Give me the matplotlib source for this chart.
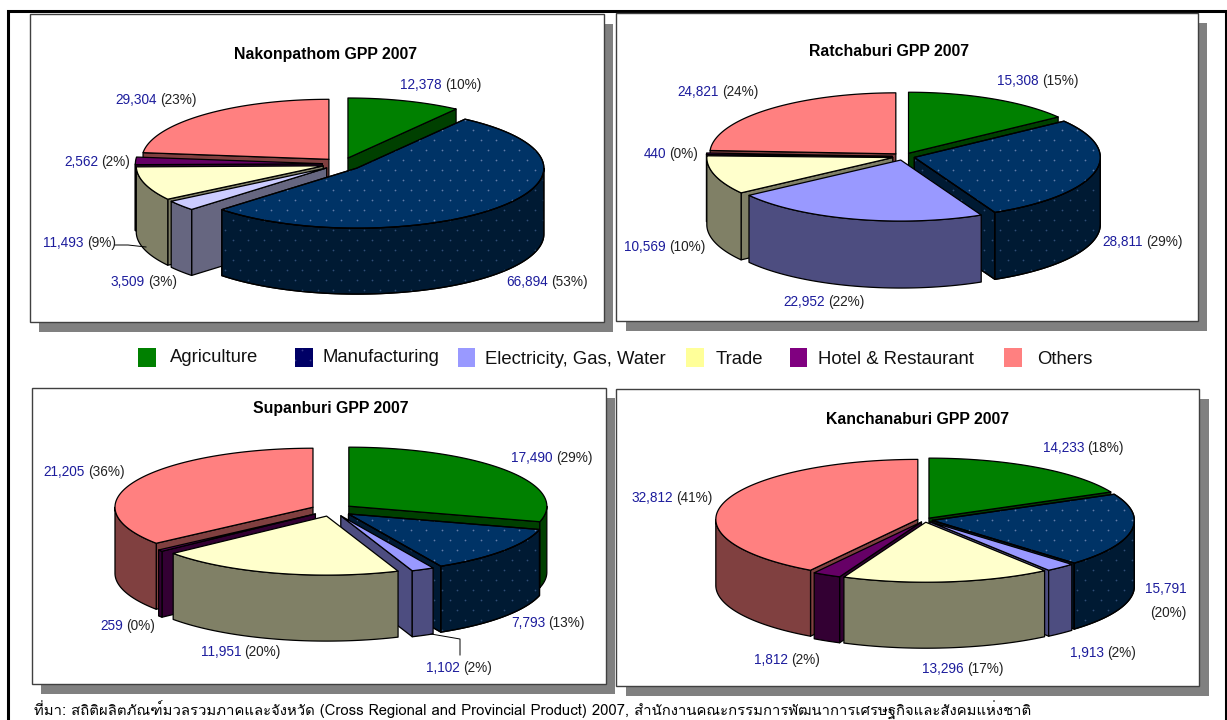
import numpy as np
import matplotlib
matplotlib.use("Agg")
import matplotlib.pyplot as plt
from matplotlib import font_manager
from matplotlib.ft2font import FT2Font
from matplotlib.patches import Polygon, Rectangle

# Values, same slice order in every chart
categories = ["Agriculture", "Manufacturing", "Electricity, Gas, Water", "Trade", "Hotel & Restaurant", "Others"]

nakon_values = [12378, 66894, 3509, 11493, 2562, 29304]
nakon_pct = [10, 53, 3, 9, 2, 23]
ratch_values = [15308, 28811, 22952, 10569, 440, 24821]
ratch_pct = [15, 29, 22, 10, 0, 24]
supan_values = [17490, 7793, 1102, 11951, 259, 21205]
supan_pct = [29, 13, 2, 20, 0, 36]
kanch_values = [14233, 15791, 1913, 13296, 1812, 32812]
kanch_pct = [18, 20, 2, 17, 2, 41]

source_text = ("ที่มา: สถิติผลิตภัณฑ์มวลรวมภาคและจังหวัด (Cross Regional and Provincial Product) 2007, "
               "สำนักงานคณะกรรมการพัฒนาการเศรษฐกิจและสังคมแห่งชาติ")

# Colours
top_colors = ["#008000", "#003366", "#9999FF", "#FFFFCC", "#660066", "#FF8080"]
side_colors = ["#004000", "#001A33", "#4D4D80", "#808066", "#330033", "#804040"]
legend_colors = ["#008000", "#000066", "#9999FF", "#FFFF99", "#800080", "#FF8080"]
label_blue = "#1C1C9C"
narrow = ["Liberation Sans Narrow", "Liberation Sans", "DejaVu Sans"]

# look for any installed font that has Thai in it
thai_fonts = []
for f in font_manager.fontManager.ttflist:
    try:
        if 0x0E2A in FT2Font(f.fname).get_charmap() and f.name not in thai_fonts:
            thai_fonts.append(f.name)
    except Exception:
        pass

fig = plt.figure(figsize=(12.27, 7.2), dpi=100)
ax = fig.add_axes([0, 0, 1, 1])
ax.set_xlim(0, 1227)
ax.set_ylim(720, 0)
ax.axis("off")

z = [3]


def next_z():
    z[0] += 1
    return z[0]


def add_dots(patch, color):
    # dotted pattern of the manufacturing slice
    xs, ys = np.meshgrid(np.arange(0, 1227, 15.5), np.arange(0, 720, 10.0))
    xs = xs + (np.round(ys / 10) % 2) * 7.75
    dots = ax.scatter(xs.ravel(), ys.ravel(), s=1.6, c=color, linewidths=0, zorder=next_z())
    dots.set_clip_path(patch)


def draw_face(pts, color, dotted=None):
    patch = Polygon(pts, closed=True, facecolor=color, edgecolor="black", lw=0.9, joinstyle="round", zorder=next_z())
    ax.add_patch(patch)
    if dotted:
        add_dots(patch, dotted)
        ax.add_patch(Polygon(pts, closed=True, fill=False, edgecolor="black", lw=0.9, zorder=next_z()))


def draw_pie(values, cx, cy, rx, ry, depth, explode, tops=top_colors, sides=side_colors):
    values = np.array(values, dtype=float)
    edges = np.concatenate([[0], np.cumsum(values) / values.sum() * 360])
    mids = (edges[:-1] + edges[1:]) / 2
    # back slices first
    for i in np.argsort(-np.cos(np.radians(mids))):
        a, b, m = edges[i], edges[i + 1], mids[i]
        ax0 = cx + rx * explode * np.sin(np.radians(m))
        ay0 = cy - ry * explode * np.cos(np.radians(m))

        def rim(t):
            t = np.radians(t)
            return np.column_stack([ax0 + rx * np.sin(t), ay0 - ry * np.cos(t)])

        apex = np.array([[ax0, ay0]])
        down = np.array([0, depth])
        dot_side = "#2F4C75" if i == 1 else None
        dot_top = "#5F7BA8" if i == 1 else None
        # cut faces, only the ones turned to the viewer
        if 0 < b < 180:
            q = np.vstack([apex, rim([b])])
            draw_face(np.vstack([q, q[::-1] + down]), sides[i], dot_side)
        if 180 < a < 360:
            q = np.vstack([apex, rim([a])])
            draw_face(np.vstack([q, q[::-1] + down]), sides[i], dot_side)
        # outer wall
        lo, hi = max(a, 90), min(b, 270)
        if hi > lo:
            arc = rim(np.linspace(lo, hi, 80))
            draw_face(np.vstack([arc, arc[::-1] + down]), sides[i], dot_side)
        # top
        draw_face(np.vstack([apex, rim(np.linspace(a, b, 120))]), tops[i], dot_top)


def draw_panel(x0, y0, x1, y1, title, tx, ty):
    ax.add_patch(Rectangle((x0 + 9.5, y0 + 10), x1 - x0, y1 - y0, facecolor="#808080", edgecolor="none", zorder=1))
    ax.add_patch(Rectangle((x0, y0), x1 - x0, y1 - y0, facecolor="white", edgecolor="#404040", lw=1.0, zorder=2))
    ax.text(tx, ty, title, ha="center", va="center", fontsize=11.4, fontweight="bold", family=narrow, color="black", zorder=900)


def draw_labels(values, pct, spots):
    for v, p, spot in zip(values, pct, spots):
        sx, sy = spot[0], spot[1]
        if len(spot) > 2:  # label broken over two lines
            ax.text(sx, sy, f"{v:,}", ha="center", va="center", fontsize=9.8, family=narrow, color=label_blue, zorder=900)
            ax.text(sx + 2, spot[2], f"({p}%)", ha="center", va="center", fontsize=9.8, family=narrow, color="#222222", zorder=900)
            continue
        ax.text(sx, sy, f"{v:,}", ha="right", va="center", fontsize=9.8, family=narrow, color=label_blue, zorder=900)
        ax.text(sx + 3, sy, f"({p}%)", ha="left", va="center", fontsize=9.8, family=narrow, color="#222222", zorder=900)


# outer frame
ax.plot([8, 8, 1225.5, 1225.5], [725, 11, 11, 725], color="black", lw=2.2, zorder=2, solid_joinstyle="miter")

# panels
draw_panel(29.5, 14, 603.5, 321.5, "Nakonpathom GPP 2007", 326, 55)
draw_panel(616, 13, 1197.5, 321, "Ratchaburi GPP 2007", 889, 52)
draw_panel(31.5, 388, 605.5, 684, "Supanburi GPP 2007", 331, 409)
draw_panel(616, 389, 1199, 686, "Kanchanaburi GPP 2007", 918, 419)

# pies
nakon_top = ["#008000", "#003366", "#CCCCFF", "#FFFFCC", "#660066", "#FF8080"]
nakon_side = ["#004000", "#001A33", "#666680", "#808066", "#330033", "#804040"]
draw_pie(nakon_values, 342, 164, 187, 60, 66, 0.105, nakon_top, nakon_side)
draw_pie(ratch_values, 903.5, 156.5, 186, 61, 67, 0.06)
draw_pie(supan_values, 332, 510, 198, 59, 66, 0.107)
draw_pie(kanch_values, 925, 520, 202, 60, 66, 0.037)

# data labels: (x of the gap between value and percent, y)
draw_labels(nakon_values, nakon_pct, [(442, 85), (548, 282), (145, 282), (84, 243), (98, 162), (157, 100)])
draw_labels(ratch_values, ratch_pct, [(1039, 81), (1143, 242), (825, 302), (666, 247), (666, 154), (719, 92)])
draw_labels(supan_values, supan_pct, [(553, 458), (545, 623), (460, 668), (241, 652), (123, 626), (85, 472)])
draw_labels(kanch_values, kanch_pct, [(1084, 448), (1166, 589, 613), (1104, 653), (964, 669), (788, 660), (673, 498)])

# leader lines
ax.plot([115, 128, 146], [245, 245, 247], color="black", lw=0.7, zorder=900)
ax.plot([431, 460, 460], [634, 639, 655], color="black", lw=0.7, zorder=900)

# legend
swatch_x = [138, 295, 458, 686, 790, 1004]
swatch_w = [18, 18, 17, 18, 17, 18]
legend_x = [170, 322, 485, 716, 818, 1037]
legend_y = [357, 357, 359, 359, 359, 359]
for i, name in enumerate(categories):
    sw = Rectangle((swatch_x[i], 348), swatch_w[i], 19, facecolor=legend_colors[i], edgecolor="none", zorder=3)
    ax.add_patch(sw)
    if i == 1:
        add_dots(sw, "#3A3A90")
    ax.text(legend_x[i], legend_y[i], name, ha="left", va="center", fontsize=13.3,
            family=["Liberation Sans", "DejaVu Sans"], color="#111111", zorder=900)

# source line
ax.text(34, 716, source_text, ha="left", va="baseline", fontsize=10.7,
        family=thai_fonts + ["Liberation Sans", "DejaVu Sans"], color="black", zorder=900)

fig.savefig("out.png", dpi=100)
